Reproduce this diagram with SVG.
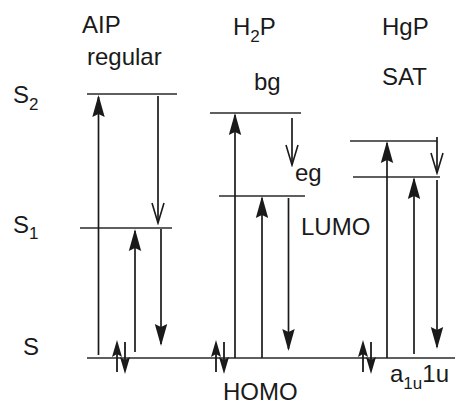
<svg xmlns="http://www.w3.org/2000/svg" width="455" height="405" viewBox="0 0 455 405">
<style>
  .lvl{stroke:#2a2a2a;stroke-width:1.6;fill:none}
  .ar{stroke:#1a1a1a;stroke-width:1.7;fill:none}
  .up{marker-end:url(#fill)}
  .open{marker-end:url(#open)}
  text{font-family:"Liberation Sans",Arial,sans-serif;font-size:24px;fill:#1a1a1a}
  .sub{font-size:17px}
</style>
<defs>
  <marker id="fill" viewBox="-22 -7 24 14" markerWidth="24" markerHeight="14" refX="0" refY="0" orient="auto" markerUnits="userSpaceOnUse">
    <path d="M2,0 L-20,-6.2 L-17,0 L-20,6.2 Z" fill="#1a1a1a"/>
  </marker>
  <marker id="open" viewBox="-22 -7 24 14" markerWidth="24" markerHeight="14" refX="0" refY="0" orient="auto" markerUnits="userSpaceOnUse">
    <path d="M-20,-6 L0,0 L-20,6" fill="none" stroke="#1a1a1a" stroke-width="1.6"/>
  </marker>
  <g id="spin">
    <line x1="-4" y1="372" x2="-4" y2="352" stroke="#1a1a1a" stroke-width="1.8"/>
    <path d="M-4,340 L-9,357 L-4,354 L1,357 Z" fill="#1a1a1a"/>
    <line x1="4" y1="342" x2="4" y2="362" stroke="#1a1a1a" stroke-width="1.8"/>
    <path d="M4,374 L-1,357 L4,360 L9,357 Z" fill="#1a1a1a"/>
  </g>
</defs>

<g id="ground">
  <line class="lvl" x1="87" y1="358" x2="455" y2="358"/>
  <text x="23" y="355">S</text>
  <text x="223" y="400">HOMO</text>
  <text x="390" y="382">a<tspan class="sub" dy="7">1u</tspan><tspan dy="-7">1u</tspan></text>
</g>

<g id="aip">
  <text x="82" y="33">AIP</text>
  <text x="87" y="65">regular</text>
  <line class="lvl" x1="87" y1="94" x2="177" y2="94"/>
  <line class="lvl" x1="80" y1="228" x2="172" y2="228"/>
  <text x="13" y="103">S<tspan class="sub" dy="7">2</tspan></text>
  <text x="13" y="233">S<tspan class="sub" dy="6">1</tspan></text>
  <use href="#spin" x="121"/>
</g>

<g id="h2p">
  <text x="233" y="35">H<tspan class="sub" dy="7">2</tspan><tspan dy="-7">P</tspan></text>
  <text x="254" y="90">bg</text>
  <line class="lvl" x1="210" y1="113" x2="301" y2="113"/>
  <text x="295" y="181">eg</text>
  <line class="lvl" x1="219" y1="196" x2="305" y2="196"/>
  <text x="301" y="235">LUMO</text>
  <use href="#spin" x="220"/>
</g>

<g id="hgp">
  <text x="382" y="35">HgP</text>
  <text x="382" y="85">SAT</text>
  <line class="lvl" x1="350" y1="141" x2="437" y2="141"/>
  <line class="lvl" x1="353" y1="177" x2="440" y2="177"/>
  <use href="#spin" x="367"/>
</g>

<g id="connectors">
  <!-- AIP -->
  <line class="ar up" x1="98.5" y1="355" x2="98.5" y2="97"/>
  <line class="ar open" x1="158" y1="96" x2="158" y2="223"/>
  <line class="ar up" x1="135" y1="352" x2="135" y2="231"/>
  <line class="ar up" x1="161" y1="229" x2="161" y2="344"/>
  <!-- H2P -->
  <line class="ar up" x1="235" y1="358" x2="235" y2="115"/>
  <line class="ar open" x1="292" y1="118" x2="292" y2="165"/>
  <line class="ar up" x1="262" y1="358" x2="262" y2="198"/>
  <line class="ar up" x1="288.5" y1="198" x2="288.5" y2="349"/>
  <!-- HgP -->
  <line class="ar up" x1="387" y1="358" x2="387" y2="143"/>
  <line class="ar open" x1="437" y1="137" x2="437" y2="173"/>
  <line class="ar up" x1="414" y1="354" x2="414" y2="179"/>
  <line class="ar up" x1="437" y1="180" x2="437" y2="347"/>
</g>
</svg>
